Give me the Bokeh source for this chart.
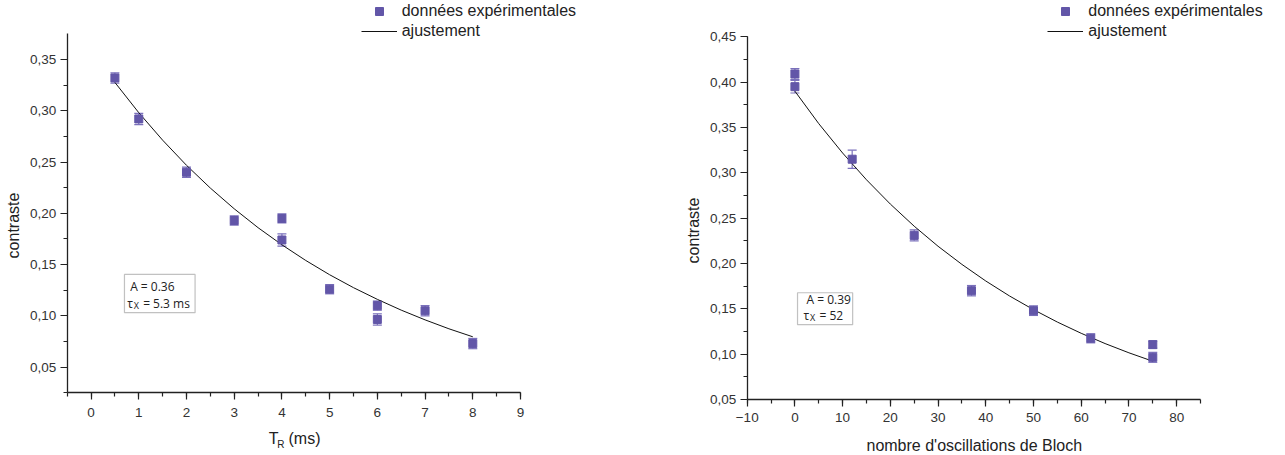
import math
from bokeh.plotting import figure
from bokeh.models import (ColumnDataSource, Whisker, TeeHead, Legend, LegendItem,
                          BoxAnnotation, Label, SingleIntervalTicker,
                          CustomJSTickFormatter, Range1d)
from bokeh.layouts import row
from bokeh.embed import file_html
from bokeh.resources import INLINE

# ---------------- data: left panel (contrast vs T_R) ----------------
tr_ms = [0.5, 1, 2, 3, 4, 4, 5, 6, 6, 7, 8]
contraste_tr = [0.332, 0.292, 0.240, 0.193, 0.195, 0.174, 0.126, 0.110, 0.0965, 0.105, 0.073]
err_tr = [0.005, 0.0055, 0.005, 0.0045, 0.0044, 0.006, 0.0045, 0.0045, 0.0055, 0.005, 0.005]
fit_tr_x = [0.5, 1.0, 1.5, 2.0, 2.5, 3.0, 3.5, 4.0, 4.5, 5.0, 5.5, 6.0, 6.5, 7.0, 7.5, 8.0]
fit_tr_y = [0.3276, 0.2981, 0.2713, 0.2468, 0.2246, 0.2044, 0.1860, 0.1693,
            0.1540, 0.1401, 0.1275, 0.1161, 0.1056, 0.0961, 0.0874, 0.0796]

# ---------------- data: right panel (contrast vs Bloch oscillations) ----------------
n_bloch = [0, 0, 12, 25, 37, 50, 62, 75, 75]
contraste_bloch = [0.409, 0.395, 0.315, 0.231, 0.170, 0.148, 0.1175, 0.1105, 0.0965]
err_bloch = [0.006, 0.007, 0.010, 0.006, 0.0057, 0.0053, 0.005, 0.004, 0.0055]
fit_bloch_x = [0, 5, 10, 15, 20, 25, 30, 35, 40, 45, 50, 55, 60, 65, 70, 75]
fit_bloch_y = [0.3900, 0.3542, 0.3218, 0.2923, 0.2655, 0.2411, 0.2190, 0.1990,
               0.1807, 0.1641, 0.1491, 0.1354, 0.1230, 0.1117, 0.1015, 0.0922]

legend_labels = ["données expérimentales", "ajustement"]
y_label = "contraste"
x_label_right = "nombre d'oscillations de Bloch"

MARK = "#6256A8"
WHISK = "#7a70bb"
FONT = "Liberation Sans"
H = 455


def make_panel(xs, ys, errs, fx, fy, x_axis, y_axis, x_view, y_view, xint, yint,
               width, legend_loc):
    # the frame fills the whole figure; the axes sit at fixed locations on their bounds
    p = figure(width=width, height=H,
               x_range=Range1d(*x_view), y_range=Range1d(*y_view),
               output_backend="svg", toolbar_location=None,
               min_border_left=0, min_border_right=0,
               min_border_top=0, min_border_bottom=0)
    p.outline_line_color = None
    p.xgrid.visible = False
    p.ygrid.visible = False
    p.background_fill_color = "white"
    p.border_fill_color = "white"

    p.xaxis.fixed_location = y_axis[0]
    p.yaxis.fixed_location = x_axis[0]
    p.xaxis.bounds = x_axis
    p.yaxis.bounds = y_axis
    p.xaxis.ticker = SingleIntervalTicker(interval=xint, num_minor_ticks=2)
    p.yaxis.ticker = SingleIntervalTicker(interval=yint, num_minor_ticks=2)
    p.yaxis.formatter = CustomJSTickFormatter(code="return tick.toFixed(2).replace('.', ',');")
    for ax in (p.xaxis, p.yaxis):
        ax.axis_line_color = "#222222"
        ax.axis_line_width = 1.3
        ax.major_tick_line_color = "#222222"
        ax.minor_tick_line_color = "#222222"
        ax.major_tick_line_width = 1.2
        ax.minor_tick_line_width = 1.2
        ax.major_tick_out = 7
        ax.major_tick_in = 0
        ax.minor_tick_out = 4
        ax.minor_tick_in = 0
        ax.major_label_text_font = FONT
        ax.major_label_text_font_size = "13.5px"
        ax.major_label_text_color = "#333333"
    p.xaxis.major_label_standoff = 8
    p.yaxis.major_label_standoff = 4

    src = ColumnDataSource(dict(
        x=xs, y=ys,
        upper=[v + e for v, e in zip(ys, errs)],
        lower=[v - e for v, e in zip(ys, errs)],
    ))
    wh = Whisker(source=src, base="x", upper="upper", lower="lower",
                 dimension="height", line_color=WHISK, line_width=1.2,
                 upper_head=TeeHead(size=9, line_color=WHISK, line_width=1.2),
                 lower_head=TeeHead(size=9, line_color=WHISK, line_width=1.2))
    p.add_layout(wh)
    ln = p.line(fx, fy, line_color="#111111", line_width=1)
    sc = p.scatter("x", "y", source=src, marker="square", size=8,
                   fill_color=MARK, line_color=MARK)

    leg = Legend(items=[LegendItem(label=legend_labels[0], renderers=[sc]),
                        LegendItem(label=legend_labels[1], renderers=[ln])],
                 location=legend_loc, orientation="vertical",
                 padding=0, margin=0, spacing=0,
                 glyph_width=36, glyph_height=20, label_height=20,
                 label_standoff=5, label_text_font=FONT,
                 label_text_font_size="16px", label_text_color="#222222",
                 border_line_color=None, background_fill_alpha=0)
    p.add_layout(leg)
    return p


def screen_text(p, x, y, text, size="16px", align="left", baseline="alphabetic", angle=0.0):
    p.add_layout(Label(x=x, y=y, x_units="screen", y_units="screen", text=text,
                       text_font=FONT, text_font_size=size, text_color="#222222",
                       text_align=align, text_baseline=baseline, angle=angle))


def fit_box(p, left, right, bottom, top, x_text, y1, y2, line1, line2):
    p.add_layout(BoxAnnotation(left=left, right=right, bottom=bottom, top=top,
                               fill_alpha=0, line_color="#333333", line_width=1.2))
    common = dict(text_font="Open Sans", text_color="#222222", text_baseline="middle")
    p.add_layout(Label(x=x_text, y=y1, text=line1, x_offset=3, text_font_size="12px", **common))
    p.add_layout(Label(x=x_text, y=y2, text="τ", text_font_size="12px", **common))
    p.add_layout(Label(x=x_text, y=y2, text="X", x_offset=6.5, y_offset=-2,
                       text_font_size="9px", **common))
    p.add_layout(Label(x=x_text, y=y2, text=line2, x_offset=16, text_font_size="12px", **common))


# left panel (figure spans page x 0..640)
p1 = make_panel(tr_ms, contraste_tr, err_tr, fit_tr_x, fit_tr_y,
                (-0.5, 9), (0.025, 0.375), (-1.8978, 11.5149), (-0.03613, 0.40747),
                1, 0.05, 640, (360.7, 414.3))
fit_box(p1, 0.70, 2.18, 0.1031, 0.1404, 0.756, 0.129, 0.1122, "A = 0.36", "= 5.3 ms")
screen_text(p1, 13.2, 230, y_label, align="center", baseline="middle", angle=math.pi / 2)
screen_text(p1, 268.3, 17, "T")
screen_text(p1, 276.7, 11.5, "R", size="10px")
screen_text(p1, 288, 17, "(ms)")

# right panel (figure spans page x 640..1285)
p2 = make_panel(n_bloch, contraste_bloch, err_bloch, fit_bloch_x, fit_bloch_y,
                (-10, 85), (0.05, 0.45), (-32.361, 102.814), (-0.01176, 0.49003),
                10, 0.05, 645, (407.3, 414.3))
p2.xaxis.major_label_standoff = 7
fit_box(p2, 0.55, 12.1, 0.1325, 0.1677, 1.8, 0.1603, 0.1426, "A = 0.39", "= 52")
screen_text(p2, 53.3, 225, y_label, align="center", baseline="middle", angle=math.pi / 2)
screen_text(p2, 333.8, 10, x_label_right, align="center")

layout = row(p1, p2)
open("out.html", "w").write(file_html(layout, INLINE))
